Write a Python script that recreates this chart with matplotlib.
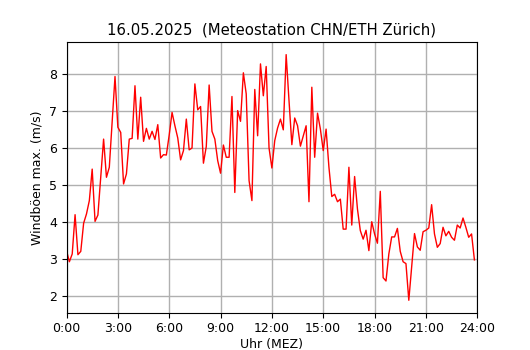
import matplotlib
matplotlib.use("Agg")
import matplotlib.pyplot as plt
import numpy as np

# 10-minute wind gust maxima (m/s), 0:00 .. 23:50
gusts = [
    3.23, 2.93, 3.14, 4.20, 3.12, 3.21, 3.97, 4.22, 4.58, 5.43, 4.02, 4.19,
    5.20, 6.24, 5.21, 5.48, 6.70, 7.93, 6.56, 6.42, 5.03, 5.30, 6.24, 6.26,
    7.68, 6.24, 7.37, 6.18, 6.53, 6.24, 6.45, 6.23, 6.63, 5.73, 5.82, 5.81,
    6.35, 6.96, 6.60, 6.27, 5.68, 5.93, 6.78, 5.95, 6.00, 7.73, 7.03, 7.12,
    5.59, 6.04, 7.70, 6.45, 6.24, 5.66, 5.32, 6.08, 5.75, 5.75, 7.39, 4.80,
    7.01, 6.72, 8.03, 7.46, 5.12, 4.58, 7.58, 6.33, 8.27, 7.41, 8.20, 6.00,
    5.46, 6.20, 6.54, 6.78, 6.49, 8.52, 7.28, 6.09, 6.81, 6.60, 6.05, 6.33,
    6.60, 4.55, 7.64, 5.75, 6.94, 6.51, 5.93, 6.51, 5.48, 4.69, 4.75, 4.55,
    4.62, 3.81, 3.81, 5.48, 3.92, 5.23, 4.35, 3.77, 3.54, 3.78, 3.23, 4.01,
    3.68, 3.43, 4.83, 2.50, 2.41, 3.14, 3.60, 3.60, 3.83, 3.21, 2.93, 2.88,
    1.89, 2.80, 3.69, 3.33, 3.24, 3.74, 3.78, 3.84, 4.47, 3.68, 3.32, 3.42,
    3.86, 3.63, 3.75, 3.59, 3.51, 3.92, 3.84, 4.11, 3.86, 3.59, 3.68, 2.98,
]
hours = np.arange(len(gusts)) / 6.0

tick_hours = [0, 3, 6, 9, 12, 15, 18, 21, 24]
tick_labels = ["0:00", "3:00", "6:00", "9:00", "12:00", "15:00", "18:00", "21:00", "24:00"]
y_ticks = [2, 3, 4, 5, 6, 7, 8]

title = "16.05.2025  (Meteostation CHN/ETH Zürich)"
xlabel = "Uhr (MEZ)"
ylabel = "Windböen max. (m/s)"

fig = plt.figure(figsize=(5.3, 3.5), dpi=100)
ax = fig.add_axes([0.1255, 0.107, 0.775, 0.772])
ax.plot(hours, gusts, color="red", linewidth=1.0)
ax.set_xlim(0, 24)
ax.set_xticks(tick_hours)
ax.set_xticklabels(tick_labels)
ax.set_yticks(y_ticks)
ax.grid(True, color="#b0b0b0", linewidth=1.0)
ax.set_axisbelow(True)
ax.set_title(title, fontsize=10.7)
ax.set_xlabel(xlabel, labelpad=2, fontsize=9)
ax.set_ylabel(ylabel, fontsize=9)
ax.tick_params(labelsize=9)
fig.savefig("out.png", dpi=100)
